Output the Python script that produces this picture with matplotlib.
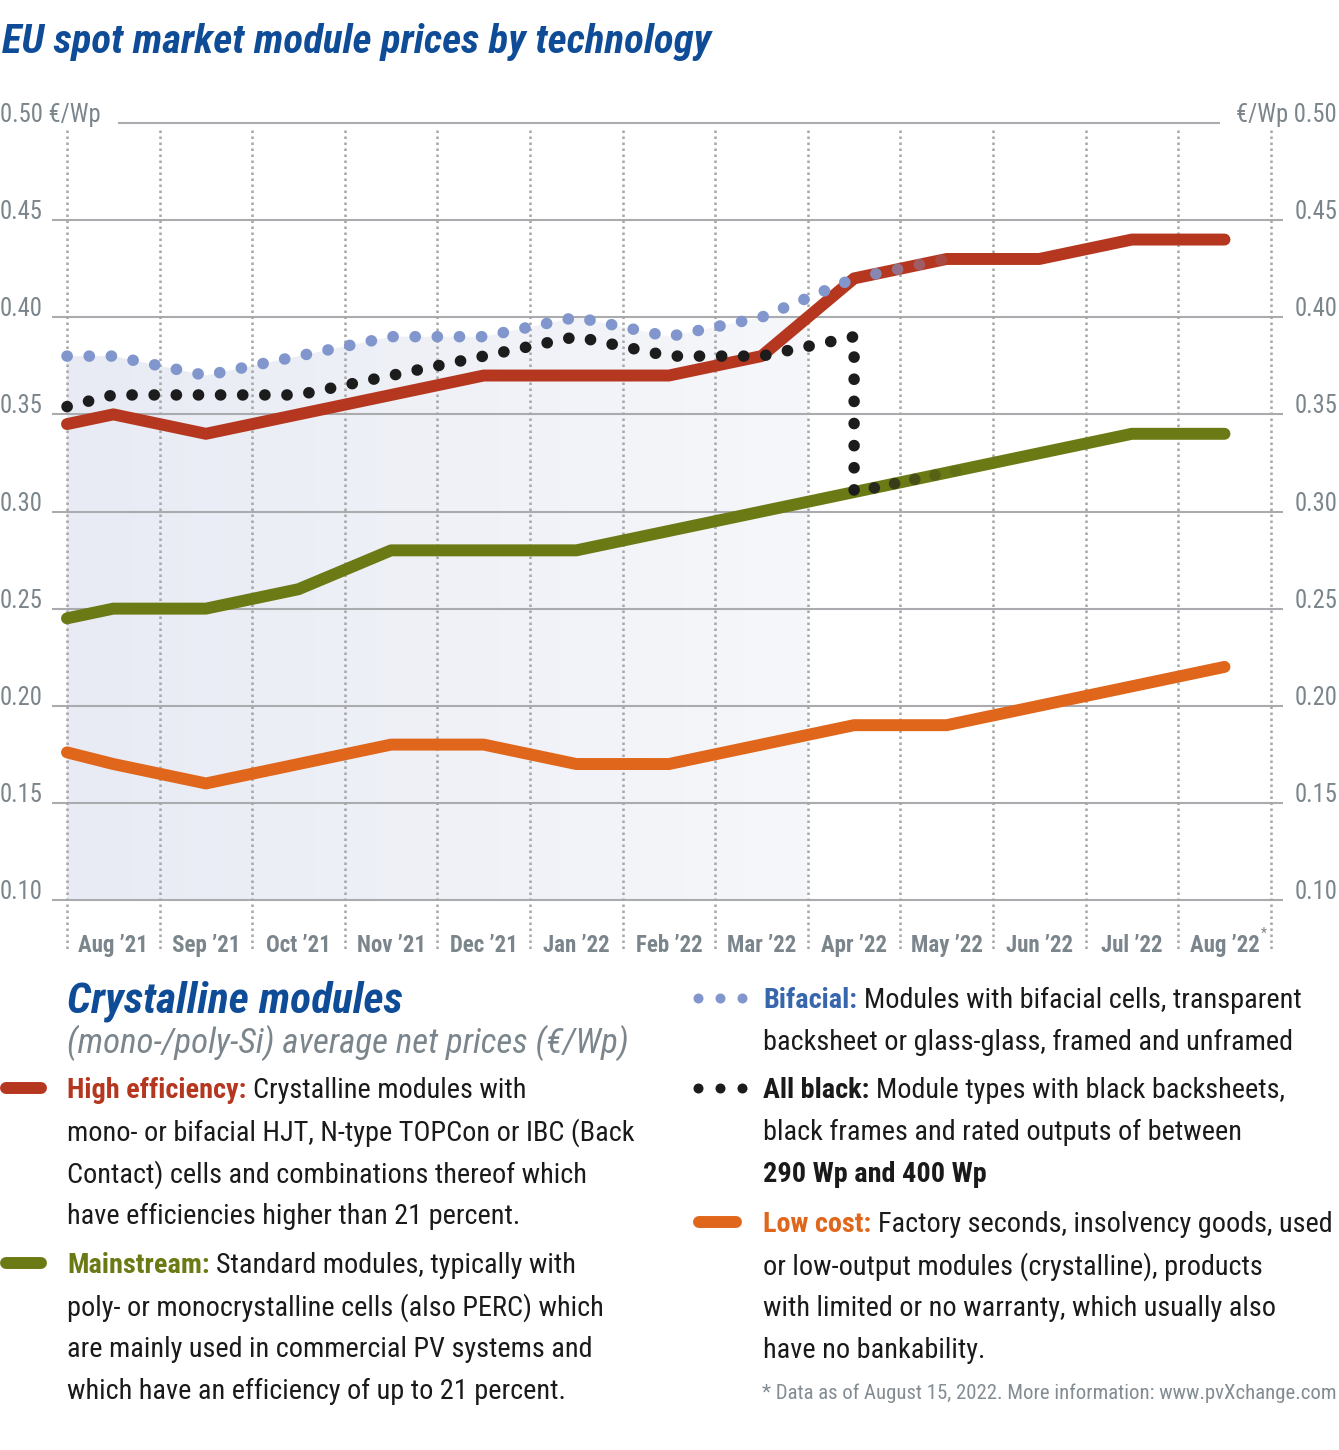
import numpy as np
import matplotlib
matplotlib.use("Agg")
import matplotlib.pyplot as plt
from matplotlib import font_manager
from matplotlib.lines import Line2D
from matplotlib.patches import Polygon
from matplotlib.colors import LinearSegmentedColormap

# ---------------- data ----------------
months = ["Aug \u201921", "Sep \u201921", "Oct \u201921", "Nov \u201921", "Dec \u201921",
          "Jan \u201922", "Feb \u201922", "Mar \u201922", "Apr \u201922", "May \u201922",
          "Jun \u201922", "Jul \u201922", "Aug \u201922"]
# first value = level at the start of the period (left edge), then one value per month
high_efficiency = [0.345, 0.35, 0.34, 0.35, 0.36, 0.37, 0.37, 0.37, 0.38, 0.42, 0.43, 0.43, 0.44, 0.44]
mainstream      = [0.245, 0.25, 0.25, 0.26, 0.28, 0.28, 0.28, 0.29, 0.30, 0.31, 0.32, 0.33, 0.34, 0.34]
low_cost        = [0.176, 0.17, 0.16, 0.17, 0.18, 0.18, 0.17, 0.17, 0.18, 0.19, 0.19, 0.20, 0.21, 0.22]
bifacial        = [0.38, 0.38, 0.37, 0.38, 0.39, 0.39, 0.40, 0.39, 0.40, 0.42]          # start .. Apr '22
all_black       = [0.354, 0.36, 0.36, 0.36, 0.37, 0.38, 0.39, 0.38, 0.38, 0.39]        # start .. Apr '22
all_black_apr_new = 0.31                                                              # merged into mainstream
y_ticks = [0.10, 0.15, 0.20, 0.25, 0.30, 0.35, 0.40, 0.45, 0.50]

# ---------------- style ----------------
W, H, DPI = 1339, 1450, 100
RED, GREEN, ORANGE = "#b5371f", "#6b7a14", "#e0661b"
BIF, BLACK = "#8196cc", "#1c1c1c"
BLUE, BLUE2 = "#0f4c97", "#3866ad"
GREY_TXT, GRID = "#7b858c", "#a9abae"
TXT = "#1a1a1a"


def family_ok(name):
    ents = [f for f in font_manager.fontManager.ttflist if f.name == name]
    if not ents:
        return False
    def w(f):
        try:
            return int(f.weight)
        except (TypeError, ValueError):
            return {"regular": 400, "normal": 400, "book": 400, "bold": 700}.get(str(f.weight).lower(), 400)
    has_reg = any(f.style == "normal" and 350 <= w(f) <= 500 for f in ents)
    has_it = any(f.style in ("italic", "oblique") for f in ents)
    has_bold = any(w(f) >= 600 for f in ents)
    return has_reg and has_it and has_bold


FONT, STRETCH = "DejaVu Sans", "condensed"
for cand in ["Roboto Condensed", "Open Sans Condensed", "Liberation Sans Narrow"]:
    if family_ok(cand):
        FONT, STRETCH = cand, "normal"
        break

fig = plt.figure(figsize=(W / DPI, H / DPI), dpi=DPI)
fig.patch.set_facecolor("white")
renderer = fig.canvas.get_renderer()

X0_PX, DX_PX = 67.0, 92.6
Y_TOP_PX, Y_BOT_PX = 123.0, 900.0
PX_PER_UNIT = (Y_BOT_PX - Y_TOP_PX) / 0.40


def px2x(px):
    return -0.5 + (px - X0_PX) / DX_PX


def py2y(py):
    return 0.10 + (Y_BOT_PX - py) / PX_PER_UNIT


def fx(px):
    return px / W


def fy(py):
    return 1 - py / H


def tw(s, size, **kw):
    t = fig.text(0, 0, s, fontsize=size, family=FONT, fontstretch=STRETCH, **kw)
    w = t.get_window_extent(renderer).width
    t.remove()
    return w


def fit(s, target, **kw):
    return 20.0 * target / tw(s, 20.0, **kw)


AX_L, AX_R = 52.0, 1283.0
ax = fig.add_axes([fx(AX_L), fy(Y_BOT_PX), (AX_R - AX_L) / W, (Y_BOT_PX - Y_TOP_PX) / H])
ax.axis("off")

x_full = np.concatenate([[-0.5], np.arange(len(months))]).astype(float)
x_part = x_full[:len(bifacial)]

# gradient fill behind the period with bifacial data
fill_x = list(x_part[:-1]) + [x_part[-1] - 0.5]
fill_y = list(bifacial[:-2]) + [bifacial[-2], bifacial[-2]]
verts = [(a, b) for a, b in zip(fill_x, fill_y)] + [(fill_x[-1], y_ticks[0]), (fill_x[0], y_ticks[0])]
poly = Polygon(verts, closed=True, facecolor="none", edgecolor="none", transform=ax.transData)
ax.add_patch(poly)
cmap = LinearSegmentedColormap.from_list("g", ["#e8ebf4", "#f6f7fa"])
im = ax.imshow(np.linspace(0, 1, 256).reshape(1, -1), extent=[fill_x[0], fill_x[-1], y_ticks[0], max(fill_y)],
               aspect="auto", cmap=cmap, origin="lower", zorder=0.5, interpolation="bilinear")
im.set_clip_path(poly)

# horizontal grid lines
for v in y_ticks:
    if v == y_ticks[-1]:
        ax.plot([px2x(118), px2x(1220)], [v, v], color=GRID, lw=1.5, zorder=1, clip_on=False, solid_capstyle="butt")
    else:
        ax.plot([px2x(AX_L), px2x(AX_R)], [v, v], color=GRID, lw=1.5, zorder=1, clip_on=False, solid_capstyle="butt")

# vertical dotted separators
for k in range(len(months) + 1):
    xv = k - 0.5
    ax.plot([xv, xv], [py2y(130), py2y(951)], color="#a6a6a6", lw=1.8, ls=(0, (1.0, 1.4)),
            zorder=1.5, clip_on=False, solid_capstyle="butt", dash_capstyle="butt")

# series lines
for vals, col in [(low_cost, ORANGE), (mainstream, GREEN), (high_efficiency, RED)]:
    ax.plot(x_full, vals, color=col, lw=8.6, solid_capstyle="round", solid_joinstyle="round",
            zorder=3, clip_on=False)

DOT_LW = 8.3
dot_style = dict(lw=DOT_LW, ls=(0, (0.02, 1.9)), dash_capstyle="round", zorder=4, clip_on=False)
bx = list(x_part) + [x_part[-1]]
by = list(all_black) + [all_black_apr_new]
ax.plot(bx, by, color=BLACK, **dot_style)
ax.plot(x_part, bifacial, color=BIF, **{**dot_style, "zorder": 5})

# fading tails
step = 0.235
for k, a in enumerate([0.85, 0.62, 0.4, 0.2], start=1):
    xt = x_part[-1] + k * step
    ax.scatter([xt], [np.interp(xt, x_full, high_efficiency)], s=DOT_LW ** 2, color=BIF, alpha=a,
               edgecolors="none", zorder=5, clip_on=False)
for k, a in enumerate([0.85, 0.65, 0.45, 0.25, 0.1], start=1):
    xt = x_part[-1] + k * step * 0.93
    ax.scatter([xt], [np.interp(xt, x_full, mainstream)], s=DOT_LW ** 2, color=BLACK, alpha=a,
               edgecolors="none", zorder=4, clip_on=False)

ax.set_xlim(px2x(AX_L), px2x(AX_R))
ax.set_ylim(0.10, 0.50)

# ---------------- axis texts ----------------
tick_size = fit("0.45", 43)
for v in y_ticks:
    ypx = Y_BOT_PX - (v - 0.10) * PX_PER_UNIT - 1
    lab = f"{v:.2f}"
    if v == y_ticks[-1]:
        fig.text(fx(0), fy(ypx), lab + " \u20ac/Wp", fontsize=tick_size, color=GREY_TXT, ha="left",
                 va="baseline", family=FONT, fontstretch=STRETCH)
        fig.text(fx(1337), fy(ypx), "\u20ac/Wp " + lab, fontsize=tick_size, color=GREY_TXT, ha="right",
                 va="baseline", family=FONT, fontstretch=STRETCH)
    else:
        fig.text(fx(0), fy(ypx), lab, fontsize=tick_size, color=GREY_TXT, ha="left", va="baseline",
                 family=FONT, fontstretch=STRETCH)
        fig.text(fx(1337), fy(ypx), lab, fontsize=tick_size, color=GREY_TXT, ha="right", va="baseline",
                 family=FONT, fontstretch=STRETCH)

month_size = fit(months[0], 70, fontweight="bold")
for i, m in enumerate(months):
    t = ax.text(i, py2y(952), m, fontsize=month_size, color=GREY_TXT, fontweight="bold", ha="center",
                va="baseline", family=FONT, fontstretch=STRETCH, clip_on=False)
    if i == len(months) - 1:
        bb = t.get_window_extent(renderer)
        fig.text(bb.x1 / W + 1.0 / W, fy(938), "*", fontsize=month_size * 0.6, color=GREY_TXT,
                 ha="left", va="baseline", family=FONT, fontstretch=STRETCH)

# ---------------- title ----------------
title_size = fit("EU spot market module prices by technology", 710, fontweight="bold", fontstyle="italic")
fig.text(fx(2), fy(38 + 0.36 * title_size * DPI / 72), "EU spot market module prices by technology",
         fontsize=title_size, color=BLUE, fontweight="bold", fontstyle="italic", ha="left", va="baseline",
         family=FONT, fontstretch=STRETCH)

# ---------------- legend ----------------
body = fit("mono- or bifacial HJT, N-type TOPCon or IBC (Back", 566)
space_w = tw("a a", body) - tw("aa", body)


def base(yc, size):
    return yc + 0.36 * size * DPI / 72


def line(x_px, yc, parts, size=body, ha="left"):
    x = x_px
    yb = base(yc, size)
    for j, (s, col, wt) in enumerate(parts):
        if j > 0:
            x += space_w
        t = fig.text(fx(x), fy(yb), s, fontsize=size, color=col, fontweight=wt, ha=ha, va="baseline",
                     family=FONT, fontstretch=STRETCH)
        x += t.get_window_extent(renderer).width


head_size = fit("Crystalline modules", 335, fontweight="bold", fontstyle="italic")
fig.text(fx(67), fy(base(997, head_size)), "Crystalline modules", fontsize=head_size, color=BLUE,
         fontweight="bold", fontstyle="italic", va="baseline", family=FONT, fontstretch=STRETCH)
sub_size = fit("(mono-/poly-Si) average net prices (\u20ac/Wp)", 561, fontstyle="italic")
fig.text(fx(67), fy(base(1040, sub_size)), "(mono-/poly-Si) average net prices (\u20ac/Wp)",
         fontsize=sub_size, color=GREY_TXT, fontstyle="italic", va="baseline", family=FONT,
         fontstretch=STRETCH)

N = "normal"
B = "bold"
legend_left = [
    (1088, RED, [[("High efficiency:", RED, B), ("Crystalline modules with", TXT, N)],
                 [("mono- or bifacial HJT, N-type TOPCon or IBC (Back", TXT, N)],
                 [("Contact) cells and combinations thereof which", TXT, N)],
                 [("have efficiencies higher than 21 percent.", TXT, N)]]),
    (1263, GREEN, [[("Mainstream:", GREEN, B), ("Standard modules, typically with", TXT, N)],
                   [("poly- or monocrystalline cells (also PERC) which", TXT, N)],
                   [("are mainly used in commercial PV systems and", TXT, N)],
                   [("which have an efficiency of up to 21 percent.", TXT, N)]]),
]
for y0, col, lines in legend_left:
    fig.add_artist(Line2D([fx(6), fx(41)], [fy(y0), fy(y0)], color=col, lw=8.6, solid_capstyle="round"))
    for k, parts in enumerate(lines):
        line(67, y0 + 42 * k, parts)

legend_right = [
    (998, "dots", BIF, [[("Bifacial:", BLUE2, B), ("Modules with bifacial cells, transparent", TXT, N)],
                        [("backsheet or glass-glass, framed and unframed", TXT, N)]]),
    (1088, "dots", BLACK, [[("All black:", TXT, B), ("Module types with black backsheets,", TXT, N)],
                           [("black frames and rated outputs of between", TXT, N)],
                           [("290 Wp and 400 Wp", TXT, B)]]),
    (1222, "bar", ORANGE, [[("Low cost:", ORANGE, B), ("Factory seconds, insolvency goods, used", TXT, N)],
                           [("or low-output modules (crystalline), products", TXT, N)],
                           [("with limited or no warranty, which usually also", TXT, N)],
                           [("have no bankability.", TXT, N)]]),
]
for y0, kind, col, lines in legend_right:
    if kind == "bar":
        fig.add_artist(Line2D([fx(699), fx(736)], [fy(y0), fy(y0)], color=col, lw=8.6,
                              solid_capstyle="round"))
    else:
        fig.add_artist(Line2D([fx(698), fx(720), fx(742)], [fy(y0)] * 3, color=col, ls="none",
                              marker="o", markersize=7.2, markeredgewidth=0))
    for k, parts in enumerate(lines):
        line(763, y0 + 42 * k, parts)

foot = "* Data as of August 15, 2022. More information: www.pvXchange.com"
foot_size = fit(foot, 574)
fig.text(fx(1337), fy(base(1392, foot_size)), foot, fontsize=foot_size, color="#838c92", ha="right",
         va="baseline", family=FONT, fontstretch=STRETCH)

fig.savefig("out.png", dpi=DPI, facecolor="white")
